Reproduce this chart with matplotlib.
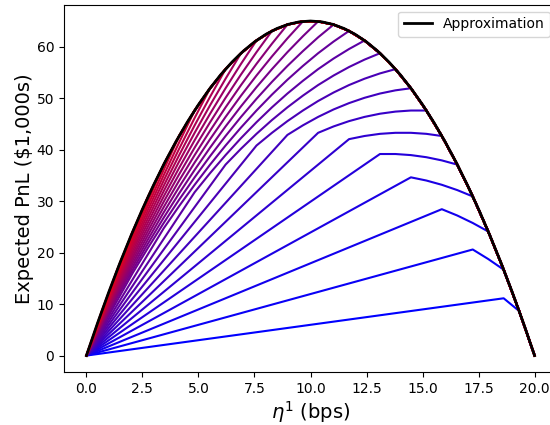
import matplotlib
matplotlib.use("Agg")
import matplotlib.pyplot as plt

# eta^1 grid (bps) on which the coloured curves are sampled
eta = [0.00, 0.69, 1.38, 2.07, 2.76, 3.45, 4.14, 4.83, 5.52, 6.21,
       6.90, 7.59, 8.28, 8.97, 9.66, 10.34, 11.03, 11.72, 12.41, 13.10,
       13.79, 14.48, 15.17, 15.86, 16.55, 17.24, 17.93, 18.62, 19.31, 20.00]

# approximation values on that grid (tails of the coloured curves)
approx_grid = [0.00, 8.66, 16.69, 24.11, 30.92, 37.10, 42.66, 47.61, 51.94, 55.65,
               58.74, 61.21, 63.07, 64.30, 64.92, 64.92, 64.30, 63.07, 61.21, 58.74,
               55.65, 51.94, 47.61, 42.66, 37.10, 30.92, 24.11, 16.69, 8.66, 0.00]

# black "Approximation" curve, finer sampling
approx_x = [0.0, 0.5, 1.0, 1.5, 2.0, 2.5, 3.0, 3.5, 4.0, 4.5, 5.0, 5.5, 6.0, 6.5,
            7.0, 7.5, 8.0, 8.5, 9.0, 9.5, 10.0, 10.5, 11.0, 11.5, 12.0, 12.5, 13.0,
            13.5, 14.0, 14.5, 15.0, 15.5, 16.0, 16.5, 17.0, 17.5, 18.0, 18.5, 19.0,
            19.5, 20.0]
approx_y = [0.00, 6.34, 12.35, 18.04, 23.40, 28.44, 33.15, 37.54, 41.60, 45.34,
            48.75, 51.84, 54.60, 57.04, 59.15, 60.94, 62.40, 63.54, 64.35, 64.84,
            65.00, 64.84, 64.35, 63.54, 62.40, 60.94, 59.15, 57.04, 54.60, 51.84,
            48.75, 45.34, 41.60, 37.54, 33.15, 28.44, 23.40, 18.04, 12.35, 6.34, 0.00]

# grid index where each coloured curve leaves its straight part (kink)
kink_idx = [27, 25, 23, 21, 19, 17, 15, 13, 11, 9, 7, 5, 3, 1,
            0, 0, 0, 0, 0, 0, 0, 0, 0, 0, 0, 0, 0, 0, 0]

# values of each coloured curve from its kink until it merges with the approximation
curve_vals = [
    [11.13, 8.66],
    [20.61, 18.76, 16.69],
    [28.44, 27.21, 25.76, 24.11],
    [34.63, 34.01, 33.18, 32.15, 30.92],
    [39.16, 39.16, 38.95, 38.54, 37.92, 37.10],
    [42.05, 42.66, 43.08, 43.28, 43.28, 43.08, 42.66],
    [43.28, 44.52, 45.55, 46.37, 46.99, 47.40, 47.61, 47.61],
    [42.87, 44.73, 46.37, 47.82, 49.05, 50.08, 50.91, 51.53, 51.94],
    [40.81, 43.28, 45.55, 47.61, 49.46, 51.11, 52.56, 53.79, 54.82, 55.65],
    [37.10, 40.19, 43.08, 45.76, 48.23, 50.50, 52.56, 54.41, 56.06, 57.50, 58.74],
    [31.74, 35.45, 38.95, 42.25, 45.34, 48.23, 50.91, 53.38, 55.65, 57.71, 59.56, 61.21],
    [24.73, 29.06, 33.18, 37.10, 40.81, 44.31, 47.61, 50.70, 53.59, 56.27, 58.74, 61.01, 63.07],
    [16.08, 21.02, 25.76, 30.30, 34.63, 38.75, 42.66, 46.37, 49.88, 53.18, 56.27, 59.15, 61.83, 64.30],
    [5.77, 11.34, 16.69, 21.85, 26.79, 31.53, 36.07, 40.40, 44.52, 48.43, 52.14, 55.65, 58.95, 62.04, 64.92],
    [0.00, 5.98, 11.75, 17.31, 22.67, 27.82, 32.77, 37.51, 42.05, 46.37, 50.50, 54.41, 58.12, 61.63, 64.92],
    [0.00, 6.18, 12.16, 17.93, 23.50, 28.85, 34.01, 38.95, 43.69, 48.23, 52.56, 56.68, 60.59, 64.30],
    [0.00, 6.39, 12.57, 18.55, 24.32, 29.89, 35.24, 40.40, 45.34, 50.08, 54.62, 58.95, 63.07],
    [0.00, 6.60, 12.98, 19.17, 25.14, 30.92, 36.48, 41.84, 46.99, 51.94, 56.68, 61.21],
    [0.00, 6.80, 13.40, 19.79, 25.97, 31.95, 37.72, 43.28, 48.64, 53.79, 58.74],
    [0.00, 7.01, 13.81, 20.40, 26.79, 32.98, 38.95, 44.73, 50.29, 55.65],
    [0.00, 7.21, 14.22, 21.02, 27.62, 34.01, 40.19, 46.17, 51.94],
    [0.00, 7.42, 14.63, 21.64, 28.44, 35.04, 41.43, 47.61],
    [0.00, 7.63, 15.05, 22.26, 29.27, 36.07, 42.66],
    [0.00, 7.83, 15.46, 22.88, 30.09, 37.10],
    [0.00, 8.04, 15.87, 23.50, 30.92],
    [0.00, 8.24, 16.28, 24.11],
    [0.00, 8.45, 16.69],
    [0.00, 8.66],
    [0.00],
]

fig = plt.figure(figsize=(5.5, 4.25), dpi=100)
ax = fig.add_axes([64 / 550, 1 - 372.3 / 425, (557 - 64) / 550, (372.3 - 4.7) / 425])

n = len(curve_vals)
for i, (s, vals) in enumerate(zip(kink_idx, curve_vals)):
    t = i / (n - 1)
    end = s + len(vals)
    xs = ([eta[0]] if s > 0 else []) + eta[s:end] + eta[end:]
    ys = ([approx_grid[0]] if s > 0 else []) + vals + approx_grid[end:]
    ax.plot(xs, ys, color=(t, 0.0, 1.0 - t), lw=1.5)

ax.plot(approx_x, approx_y, color="black", lw=2.0, label="Approximation")

ax.set_xticks([0, 2.5, 5, 7.5, 10, 12.5, 15, 17.5, 20])
ax.set_xticklabels(["0.0", "2.5", "5.0", "7.5", "10.0", "12.5", "15.0", "17.5", "20.0"])
ax.set_yticks([0, 10, 20, 30, 40, 50, 60])
ax.set_xlim(-1.0, 21.0)
ax.set_ylim(-3.25, 68.17)
ax.tick_params(labelsize=10)
ax.set_xlabel(r"$\eta^1$ (bps)", fontsize=14, labelpad=2)
ax.set_ylabel("Expected PnL ($1,000s)", fontsize=14, labelpad=2)
ax.legend(loc="upper right", fontsize=10)

fig.savefig("out.png", dpi=100)
